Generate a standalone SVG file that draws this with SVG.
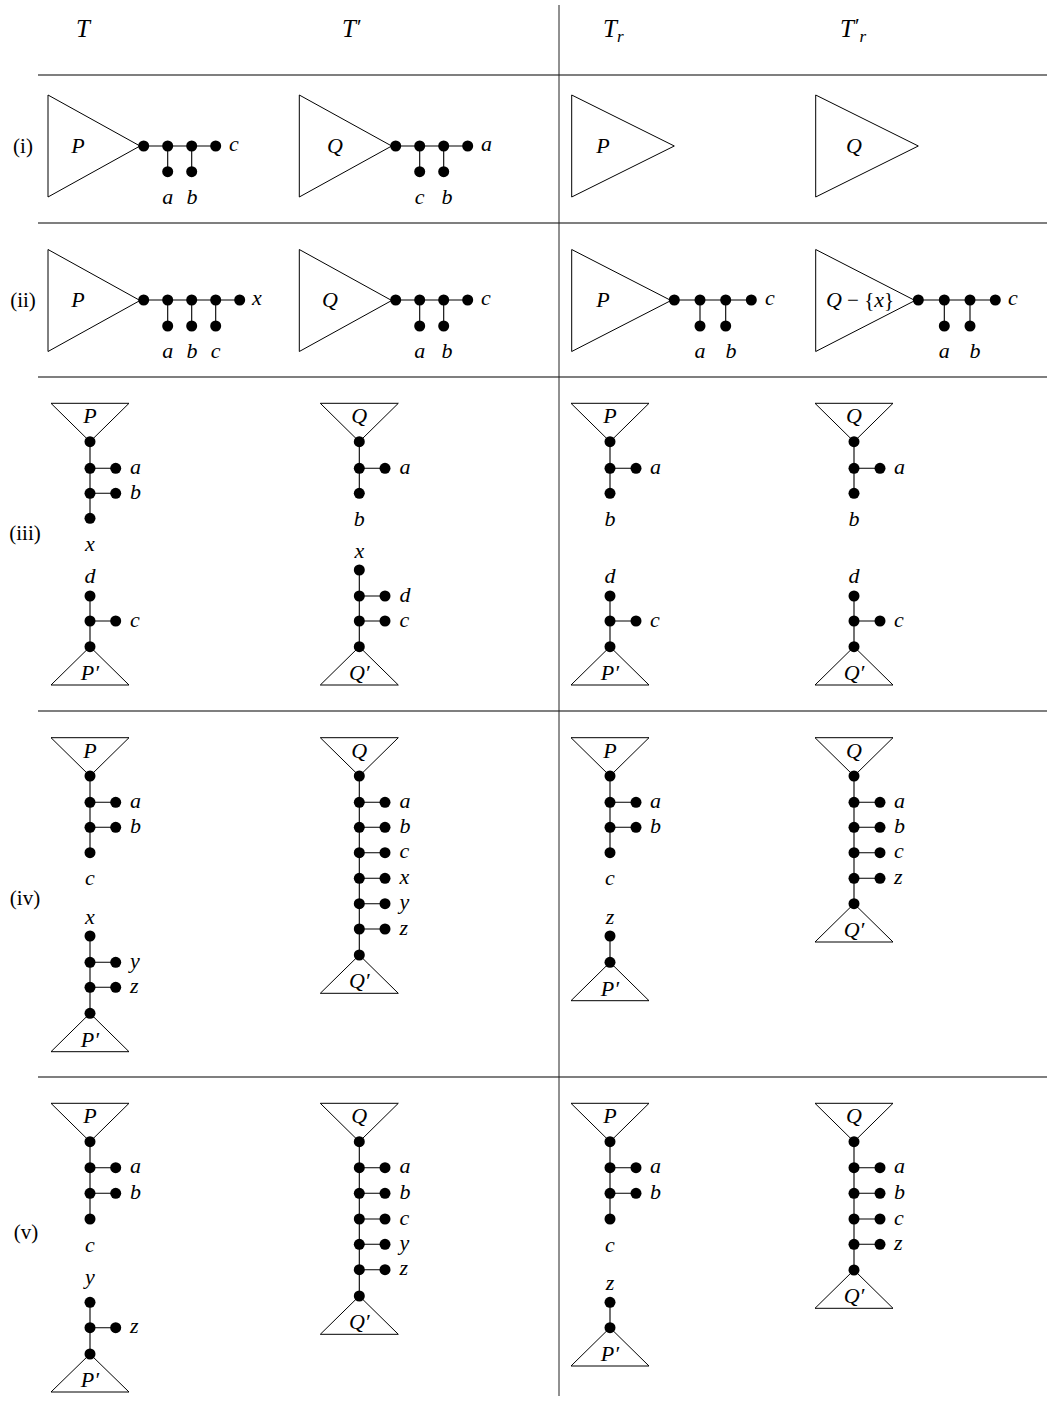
<svg xmlns="http://www.w3.org/2000/svg" width="1047" height="1401" viewBox="0 0 1047 1401">
<style>
.bg{fill:#fff}
.t{fill:none;stroke:#000;stroke-width:1;stroke-linejoin:miter}
.e{fill:none;stroke:#000;stroke-width:1.1}
.s{stroke:#000;stroke-width:1.2}
.v{stroke:#222;stroke-width:1}
.m{font-family:"Liberation Serif","DejaVu Serif",serif;font-style:italic;font-size:22px;fill:#000}
.h{font-size:25px}
.u{font-family:"Liberation Serif","DejaVu Serif",serif;font-style:normal;font-size:21px;fill:#000}
.c{text-anchor:middle}
</style>
<defs>
<circle id="d" r="5.5" fill="#000"/>
</defs>
<rect class="bg" x="0" y="0" width="1047" height="1401"/>

<g id="grid">
<line class="s" x1="38" y1="75" x2="1047" y2="75"/>
<line class="s" x1="38" y1="223" x2="1047" y2="223"/>
<line class="s" x1="38" y1="377" x2="1047" y2="377"/>
<line class="s" x1="38" y1="711" x2="1047" y2="711"/>
<line class="s" x1="38" y1="1077" x2="1047" y2="1077"/>
<line class="v" x1="559" y1="5" x2="559" y2="1396"/>
</g>

<g id="headers">
<text class="m h c" x="83" y="37">T</text>
<text class="m h" x="342" y="37">T<tspan class="u" font-size="19" dx="1" dy="-3">′</tspan></text>
<text class="m h" x="603" y="37">T<tspan font-size="17" dx="0" dy="5">r</tspan></text>
<text class="m h" x="840" y="37">T<tspan class="u" font-size="17" dx="1" dy="-4">′</tspan><tspan font-size="17" dx="0" dy="9">r</tspan></text>
</g>

<g id="row-labels">
<text class="u c" x="23" y="153">(i)</text>
<text class="u c" x="23" y="307">(ii)</text>
<text class="u c" x="25" y="540">(iii)</text>
<text class="u c" x="25" y="905">(iv)</text>
<text class="u c" x="26" y="1239">(v)</text>
</g>

<g id="connectors">
<path class="e" d="M143.7 146H215.7M167.7 146V171.7M191.7 146V171.7"/>
<path class="e" d="M395.7 146H467.7M419.7 146V171.7M443.7 146V171.7"/>
<path class="e" d="M143.7 300H239.7M167.7 300V326M191.7 300V326M215.7 300V326"/>
<path class="e" d="M395.7 300H467.7M419.7 300V326M443.7 300V326"/>
<path class="e" d="M674.3 300H751.3M700 300V326M725.7 300V326"/>
<path class="e" d="M918.3 300H995.3M944.3 300V326M970 300V326"/>
<path class="e" d="M90 441.7V518.3M90 468.3H115.7M90 493.3H115.7M90 596V646.7M90 621H115.7"/>
<path class="e" d="M359.3 441.7V493.3M359.3 468.3H385M359.3 570V646.7M359.3 596H385M359.3 621H385"/>
<path class="e" d="M610 441.7V493.3M610 468.3H636M610 596V646.7M610 621H636"/>
<path class="e" d="M854 441.7V493.3M854 468.3H880M854 596V646.7M854 621H880"/>
<path class="e" d="M90 776V852.7M90 802.3H115.7M90 827.3H115.7M90 936V1013.3M90 962.3H115.7M90 987.3H115.7"/>
<path class="e" d="M359.3 776V955M359.3 802.3H385M359.3 827.3H385M359.3 852.7H385M359.3 878.3H385M359.3 903.7H385M359.3 929H385"/>
<path class="e" d="M610 776V852.7M610 802.3H636M610 827.3H636M610 936V962.3"/>
<path class="e" d="M854 776V903.7M854 802.3H880M854 827.3H880M854 852.7H880M854 878.3H880"/>
<path class="e" d="M90 1141.7V1219M90 1167.7H115.7M90 1193.3H115.7M90 1302.3V1354M90 1327.7H115.7"/>
<path class="e" d="M359.3 1141.7V1296M359.3 1167.7H385M359.3 1193.3H385M359.3 1219H385M359.3 1244.3H385M359.3 1269.7H385"/>
<path class="e" d="M610 1141.7V1219M610 1167.7H636M610 1193.3H636M610 1302.3V1327.7"/>
<path class="e" d="M854 1141.7V1270M854 1167.7H880M854 1193.3H880M854 1219H880M854 1244.3H880"/>
</g>

<!-- Row (i) -->
<g id="r1-T">
<polygon class="t" points="48,95 48,197 140,146"/>
<text class="m c" x="78" y="153">P</text>
<use href="#d" x="143.7" y="146"/><use href="#d" x="167.7" y="146"/><use href="#d" x="191.7" y="146"/><use href="#d" x="215.7" y="146"/>
<use href="#d" x="167.7" y="171.7"/><use href="#d" x="191.7" y="171.7"/>
<text class="m c" x="167.7" y="204">a</text><text class="m c" x="192" y="204">b</text>
<text class="m" x="229" y="151">c</text>
</g>
<g id="r1-Tp">
<polygon class="t" points="299.3,95 299.3,197 391.7,146"/>
<text class="m c" x="335" y="153">Q</text>
<use href="#d" x="395.7" y="146"/><use href="#d" x="419.7" y="146"/><use href="#d" x="443.7" y="146"/><use href="#d" x="467.7" y="146"/>
<use href="#d" x="419.7" y="171.7"/><use href="#d" x="443.7" y="171.7"/>
<text class="m c" x="419.7" y="204">c</text><text class="m c" x="447" y="204">b</text>
<text class="m" x="481" y="151">a</text>
</g>
<g id="r1-Tr">
<polygon class="t" points="571.7,95 571.7,197 674.3,146"/>
<text class="m c" x="603" y="153">P</text>
</g>
<g id="r1-Trp">
<polygon class="t" points="815.7,95 815.7,197 918.3,146"/>
<text class="m c" x="854" y="153">Q</text>
</g>

<!-- Row (ii) -->
<g id="r2-T">
<polygon class="t" points="48,249.5 48,351.5 140,300.5"/>
<text class="m c" x="78" y="307">P</text>
<use href="#d" x="143.7" y="300"/><use href="#d" x="167.7" y="300"/><use href="#d" x="191.7" y="300"/><use href="#d" x="215.7" y="300"/><use href="#d" x="239.7" y="300"/>
<use href="#d" x="167.7" y="326"/><use href="#d" x="191.7" y="326"/><use href="#d" x="215.7" y="326"/>
<text class="m c" x="167.7" y="358">a</text><text class="m c" x="192" y="358">b</text><text class="m c" x="215.7" y="358">c</text>
<text class="m" x="252" y="305">x</text>
</g>
<g id="r2-Tp">
<polygon class="t" points="299.3,249.5 299.3,351.5 391.7,300.5"/>
<text class="m c" x="330" y="307">Q</text>
<use href="#d" x="395.7" y="300"/><use href="#d" x="419.7" y="300"/><use href="#d" x="443.7" y="300"/><use href="#d" x="467.7" y="300"/>
<use href="#d" x="419.7" y="326"/><use href="#d" x="443.7" y="326"/>
<text class="m c" x="419.7" y="358">a</text><text class="m c" x="447" y="358">b</text>
<text class="m" x="481" y="305">c</text>
</g>
<g id="r2-Tr">
<polygon class="t" points="571.7,249.5 571.7,351.5 671,300.5"/>
<text class="m c" x="603" y="307">P</text>
<use href="#d" x="674.3" y="300"/><use href="#d" x="700" y="300"/><use href="#d" x="725.7" y="300"/><use href="#d" x="751.3" y="300"/>
<use href="#d" x="700" y="326"/><use href="#d" x="725.7" y="326"/>
<text class="m c" x="700" y="358">a</text><text class="m c" x="731" y="358">b</text>
<text class="m" x="765" y="305">c</text>
</g>
<g id="r2-Trp">
<polygon class="t" points="815.7,249.5 815.7,351.5 915,300.5"/>
<text class="m c" x="860" y="307">Q<tspan class="u" font-size="22"> − {</tspan>x<tspan class="u" font-size="22">}</tspan></text>
<use href="#d" x="918.3" y="300"/><use href="#d" x="944.3" y="300"/><use href="#d" x="970" y="300"/><use href="#d" x="995.3" y="300"/>
<use href="#d" x="944.3" y="326"/><use href="#d" x="970" y="326"/>
<text class="m c" x="944.3" y="358">a</text><text class="m c" x="975" y="358">b</text>
<text class="m" x="1008" y="305">c</text>
</g>

<!-- Row (iii) -->
<g id="r3-T">
<polygon class="t" points="51,403.3 129,403.3 90,441.7"/>
<text class="m c" x="90" y="423.3">P</text>
<use href="#d" x="90" y="441.7"/><use href="#d" x="90" y="468.3"/><use href="#d" x="90" y="493.3"/><use href="#d" x="90" y="518.3"/>
<use href="#d" x="115.7" y="468.3"/><use href="#d" x="115.7" y="493.3"/>
<text class="m" x="130" y="473.8">a</text><text class="m" x="130" y="498.8">b</text>
<text class="m c" x="90" y="550.5">x</text>
<text class="m c" x="90" y="583.3">d</text>
<use href="#d" x="90" y="596"/><use href="#d" x="90" y="621"/><use href="#d" x="90" y="646.7"/>
<use href="#d" x="115.7" y="621"/>
<text class="m" x="130" y="626.5">c</text>
<polygon class="t" points="90,646.7 51,685 129,685"/>
<text class="m c" x="90" y="680">P′</text>
</g>
<g id="r3-Tp">
<polygon class="t" points="320.3,403.3 398.3,403.3 359.3,441.7"/>
<text class="m c" x="359.3" y="423.3">Q</text>
<use href="#d" x="359.3" y="441.7"/><use href="#d" x="359.3" y="468.3"/><use href="#d" x="359.3" y="493.3"/>
<use href="#d" x="385" y="468.3"/>
<text class="m" x="399.5" y="473.8">a</text>
<text class="m c" x="359.3" y="526">b</text>
<text class="m c" x="359.3" y="557.7">x</text>
<use href="#d" x="359.3" y="570"/><use href="#d" x="359.3" y="596"/><use href="#d" x="359.3" y="621"/><use href="#d" x="359.3" y="646.7"/>
<use href="#d" x="385" y="596"/><use href="#d" x="385" y="621"/>
<text class="m" x="399.5" y="601.5">d</text><text class="m" x="399.5" y="626.5">c</text>
<polygon class="t" points="359.3,646.7 320.3,685 398.3,685"/>
<text class="m c" x="359.3" y="680">Q′</text>
</g>
<g id="r3-Tr">
<polygon class="t" points="571,403.3 649,403.3 610,441.7"/>
<text class="m c" x="610" y="423.3">P</text>
<use href="#d" x="610" y="441.7"/><use href="#d" x="610" y="468.3"/><use href="#d" x="610" y="493.3"/>
<use href="#d" x="636" y="468.3"/>
<text class="m" x="650" y="473.8">a</text>
<text class="m c" x="610" y="526">b</text>
<text class="m c" x="610" y="583.3">d</text>
<use href="#d" x="610" y="596"/><use href="#d" x="610" y="621"/><use href="#d" x="610" y="646.7"/>
<use href="#d" x="636" y="621"/>
<text class="m" x="650" y="626.5">c</text>
<polygon class="t" points="610,646.7 571,685 649,685"/>
<text class="m c" x="610" y="680">P′</text>
</g>
<g id="r3-Trp">
<polygon class="t" points="815,403.3 893,403.3 854,441.7"/>
<text class="m c" x="854" y="423.3">Q</text>
<use href="#d" x="854" y="441.7"/><use href="#d" x="854" y="468.3"/><use href="#d" x="854" y="493.3"/>
<use href="#d" x="880" y="468.3"/>
<text class="m" x="894" y="473.8">a</text>
<text class="m c" x="854" y="526">b</text>
<text class="m c" x="854" y="583.3">d</text>
<use href="#d" x="854" y="596"/><use href="#d" x="854" y="621"/><use href="#d" x="854" y="646.7"/>
<use href="#d" x="880" y="621"/>
<text class="m" x="894" y="626.5">c</text>
<polygon class="t" points="854,646.7 815,685 893,685"/>
<text class="m c" x="854" y="680">Q′</text>
</g>

<!-- Row (iv) -->
<g id="r4-T">
<polygon class="t" points="51,737.7 129,737.7 90,776"/>
<text class="m c" x="90" y="757.7">P</text>
<use href="#d" x="90" y="776"/><use href="#d" x="90" y="802.3"/><use href="#d" x="90" y="827.3"/><use href="#d" x="90" y="852.7"/>
<use href="#d" x="115.7" y="802.3"/><use href="#d" x="115.7" y="827.3"/>
<text class="m" x="130" y="807.8">a</text><text class="m" x="130" y="832.8">b</text>
<text class="m c" x="90" y="884.5">c</text>
<text class="m c" x="90" y="923.5">x</text>
<use href="#d" x="90" y="936"/><use href="#d" x="90" y="962.3"/><use href="#d" x="90" y="987.3"/><use href="#d" x="90" y="1013.3"/>
<use href="#d" x="115.7" y="962.3"/><use href="#d" x="115.7" y="987.3"/>
<text class="m" x="130" y="967.8">y</text><text class="m" x="130" y="992.8">z</text>
<polygon class="t" points="90,1013.3 51,1051.7 129,1051.7"/>
<text class="m c" x="90" y="1046.7">P′</text>
</g>
<g id="r4-Tp">
<polygon class="t" points="320.3,737.7 398.3,737.7 359.3,776"/>
<text class="m c" x="359.3" y="757.7">Q</text>
<use href="#d" x="359.3" y="776"/><use href="#d" x="359.3" y="802.3"/><use href="#d" x="359.3" y="827.3"/><use href="#d" x="359.3" y="852.7"/><use href="#d" x="359.3" y="878.3"/><use href="#d" x="359.3" y="903.7"/><use href="#d" x="359.3" y="929"/><use href="#d" x="359.3" y="955"/>
<use href="#d" x="385" y="802.3"/><use href="#d" x="385" y="827.3"/><use href="#d" x="385" y="852.7"/><use href="#d" x="385" y="878.3"/><use href="#d" x="385" y="903.7"/><use href="#d" x="385" y="929"/>
<text class="m" x="399.5" y="807.8">a</text><text class="m" x="399.5" y="832.8">b</text><text class="m" x="399.5" y="858.2">c</text><text class="m" x="399.5" y="883.8">x</text><text class="m" x="399.5" y="909.2">y</text><text class="m" x="399.5" y="934.5">z</text>
<polygon class="t" points="359.3,955 320.3,993.3 398.3,993.3"/>
<text class="m c" x="359.3" y="988.3">Q′</text>
</g>
<g id="r4-Tr">
<polygon class="t" points="571,737.7 649,737.7 610,776"/>
<text class="m c" x="610" y="757.7">P</text>
<use href="#d" x="610" y="776"/><use href="#d" x="610" y="802.3"/><use href="#d" x="610" y="827.3"/><use href="#d" x="610" y="852.7"/>
<use href="#d" x="636" y="802.3"/><use href="#d" x="636" y="827.3"/>
<text class="m" x="650" y="807.8">a</text><text class="m" x="650" y="832.8">b</text>
<text class="m c" x="610" y="884.5">c</text>
<text class="m c" x="610" y="923.5">z</text>
<use href="#d" x="610" y="936"/><use href="#d" x="610" y="962.3"/>
<polygon class="t" points="610,962.3 571,1000.7 649,1000.7"/>
<text class="m c" x="610" y="995.7">P′</text>
</g>
<g id="r4-Trp">
<polygon class="t" points="815,737.7 893,737.7 854,776"/>
<text class="m c" x="854" y="757.7">Q</text>
<use href="#d" x="854" y="776"/><use href="#d" x="854" y="802.3"/><use href="#d" x="854" y="827.3"/><use href="#d" x="854" y="852.7"/><use href="#d" x="854" y="878.3"/><use href="#d" x="854" y="903.7"/>
<use href="#d" x="880" y="802.3"/><use href="#d" x="880" y="827.3"/><use href="#d" x="880" y="852.7"/><use href="#d" x="880" y="878.3"/>
<text class="m" x="894" y="807.8">a</text><text class="m" x="894" y="832.8">b</text><text class="m" x="894" y="858.2">c</text><text class="m" x="894" y="883.8">z</text>
<polygon class="t" points="854,903.7 815,942 893,942"/>
<text class="m c" x="854" y="937">Q′</text>
</g>

<!-- Row (v) -->
<g id="r5-T">
<polygon class="t" points="51,1103.3 129,1103.3 90,1141.7"/>
<text class="m c" x="90" y="1123.3">P</text>
<use href="#d" x="90" y="1141.7"/><use href="#d" x="90" y="1167.7"/><use href="#d" x="90" y="1193.3"/><use href="#d" x="90" y="1219"/>
<use href="#d" x="115.7" y="1167.7"/><use href="#d" x="115.7" y="1193.3"/>
<text class="m" x="130" y="1173.2">a</text><text class="m" x="130" y="1198.8">b</text>
<text class="m c" x="90" y="1252">c</text>
<text class="m c" x="90" y="1283.5">y</text>
<use href="#d" x="90" y="1302.3"/><use href="#d" x="90" y="1327.7"/><use href="#d" x="90" y="1354"/>
<use href="#d" x="115.7" y="1327.7"/>
<text class="m" x="130" y="1333.2">z</text>
<polygon class="t" points="90,1354 51,1392 129,1392"/>
<text class="m c" x="90" y="1387">P′</text>
</g>
<g id="r5-Tp">
<polygon class="t" points="320.3,1103.3 398.3,1103.3 359.3,1141.7"/>
<text class="m c" x="359.3" y="1123.3">Q</text>
<use href="#d" x="359.3" y="1141.7"/><use href="#d" x="359.3" y="1167.7"/><use href="#d" x="359.3" y="1193.3"/><use href="#d" x="359.3" y="1219"/><use href="#d" x="359.3" y="1244.3"/><use href="#d" x="359.3" y="1269.7"/><use href="#d" x="359.3" y="1296"/>
<use href="#d" x="385" y="1167.7"/><use href="#d" x="385" y="1193.3"/><use href="#d" x="385" y="1219"/><use href="#d" x="385" y="1244.3"/><use href="#d" x="385" y="1269.7"/>
<text class="m" x="399.5" y="1173.2">a</text><text class="m" x="399.5" y="1198.8">b</text><text class="m" x="399.5" y="1224.5">c</text><text class="m" x="399.5" y="1249.8">y</text><text class="m" x="399.5" y="1275.2">z</text>
<polygon class="t" points="359.3,1296 320.3,1334.3 398.3,1334.3"/>
<text class="m c" x="359.3" y="1329.3">Q′</text>
</g>
<g id="r5-Tr">
<polygon class="t" points="571,1103.3 649,1103.3 610,1141.7"/>
<text class="m c" x="610" y="1123.3">P</text>
<use href="#d" x="610" y="1141.7"/><use href="#d" x="610" y="1167.7"/><use href="#d" x="610" y="1193.3"/><use href="#d" x="610" y="1219"/>
<use href="#d" x="636" y="1167.7"/><use href="#d" x="636" y="1193.3"/>
<text class="m" x="650" y="1173.2">a</text><text class="m" x="650" y="1198.8">b</text>
<text class="m c" x="610" y="1252">c</text>
<text class="m c" x="610" y="1290">z</text>
<use href="#d" x="610" y="1302.3"/><use href="#d" x="610" y="1327.7"/>
<polygon class="t" points="610,1327.7 571,1366 649,1366"/>
<text class="m c" x="610" y="1361">P′</text>
</g>
<g id="r5-Trp">
<polygon class="t" points="815,1103.3 893,1103.3 854,1141.7"/>
<text class="m c" x="854" y="1123.3">Q</text>
<use href="#d" x="854" y="1141.7"/><use href="#d" x="854" y="1167.7"/><use href="#d" x="854" y="1193.3"/><use href="#d" x="854" y="1219"/><use href="#d" x="854" y="1244.3"/><use href="#d" x="854" y="1270"/>
<use href="#d" x="880" y="1167.7"/><use href="#d" x="880" y="1193.3"/><use href="#d" x="880" y="1219"/><use href="#d" x="880" y="1244.3"/>
<text class="m" x="894" y="1173.2">a</text><text class="m" x="894" y="1198.8">b</text><text class="m" x="894" y="1224.5">c</text><text class="m" x="894" y="1249.8">z</text>
<polygon class="t" points="854,1270 815,1308.3 893,1308.3"/>
<text class="m c" x="854" y="1303.3">Q′</text>
</g>
</svg>
